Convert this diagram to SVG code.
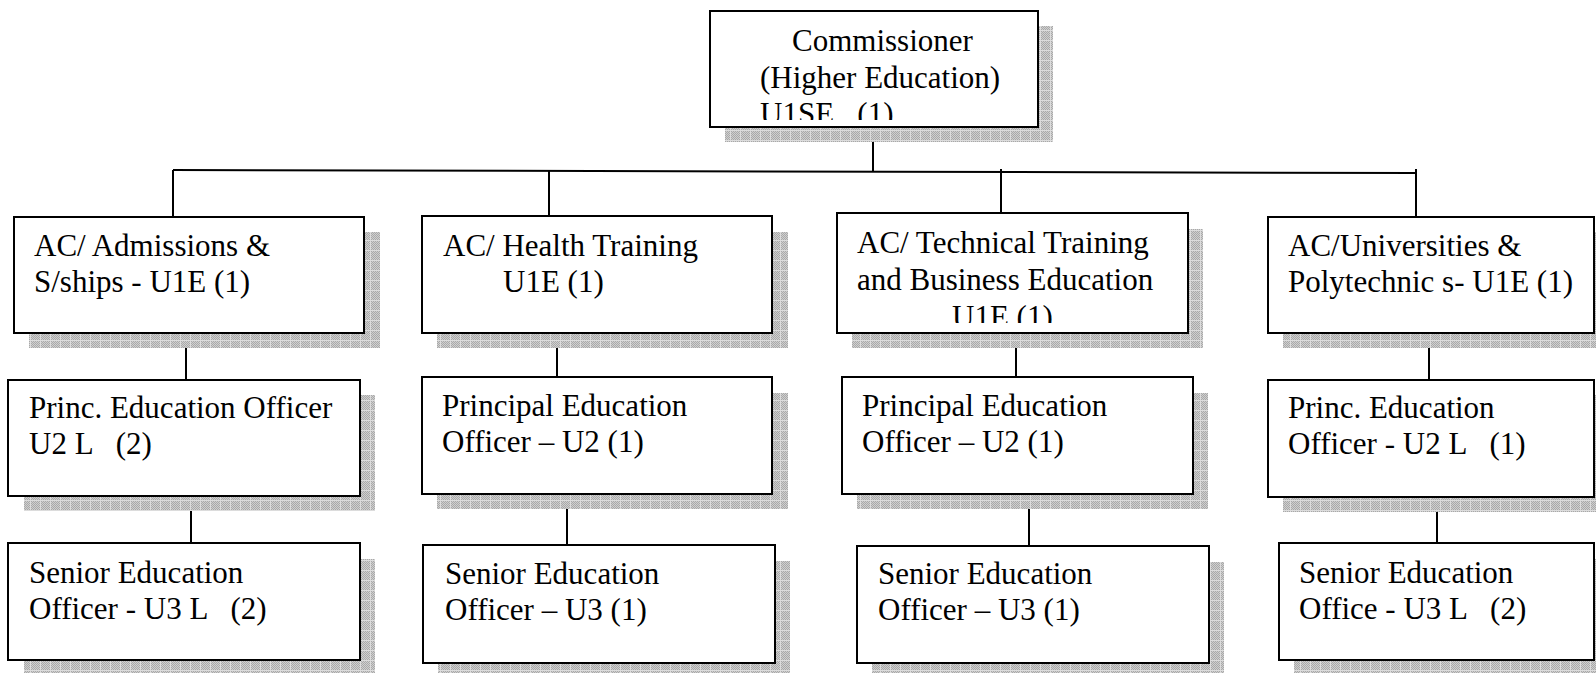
<svg xmlns="http://www.w3.org/2000/svg" width="1596" height="673" viewBox="0 0 1596 673">
  <style>
    .box { fill: #ffffff; stroke: #000000; stroke-width: 2; }
    .shadow { fill: url(#grid); }
    .t { font-family: "Liberation Serif", "Times New Roman", serif; font-size: 31px; fill: #000000; }
    .conn { stroke: #000000; stroke-width: 2; fill: none; }
  </style>
  <defs>
    <pattern id="dots" patternUnits="userSpaceOnUse" width="2" height="2">
      <rect width="2" height="2" fill="#cfcfcf"/>
      <rect width="1" height="1" fill="#a9a9a9"/>
      <rect x="1" y="1" width="1" height="1" fill="#a9a9a9"/>
    </pattern>
    <pattern id="grid" patternUnits="userSpaceOnUse" width="10" height="10">
      <rect width="10" height="10" fill="url(#dots)"/>
      <rect width="10" height="1" fill="#dcdcdc"/>
      <rect width="1" height="10" fill="#dcdcdc"/>
    </pattern>
    <clipPath id="clipC"><rect x="711" y="12" width="326" height="108"/></clipPath>
    <clipPath id="clipA3"><rect x="838" y="214" width="349" height="109"/></clipPath>
  </defs>

  <g id="connectors">
    <line class="conn" x1="173" y1="170" x2="1416" y2="173"/>
    <line class="conn" x1="873" y1="127" x2="873" y2="172"/>
    <line class="conn" x1="173" y1="170" x2="173" y2="217"/>
    <line class="conn" x1="549" y1="171" x2="549" y2="216"/>
    <line class="conn" x1="1001" y1="169" x2="1001" y2="213"/>
    <line class="conn" x1="1416" y1="169" x2="1416" y2="217"/>
    <line class="conn" x1="186" y1="333" x2="186" y2="380"/>
    <line class="conn" x1="191" y1="496" x2="191" y2="543"/>
    <line class="conn" x1="557" y1="333" x2="557" y2="377"/>
    <line class="conn" x1="567" y1="494" x2="567" y2="545"/>
    <line class="conn" x1="1016" y1="333" x2="1016" y2="377"/>
    <line class="conn" x1="1029" y1="494" x2="1029" y2="546"/>
    <line class="conn" x1="1429" y1="333" x2="1429" y2="380"/>
    <line class="conn" x1="1437" y1="497" x2="1437" y2="543"/>
  </g>

  <g id="commissioner">
    <rect class="shadow" x="725" y="26" width="328" height="116"/>
    <rect class="box" x="710" y="11" width="328" height="116"/>
    <g clip-path="url(#clipC)">
      <text class="t" x="792" y="51">Commissioner</text>
      <text class="t" x="760" y="88">(Higher Education)</text>
      <text class="t" x="760" y="124" xml:space="preserve">U1SE   (1)</text>
    </g>
  </g>

  <g id="ac-admissions">
    <rect class="shadow" x="29" y="232" width="351" height="116"/>
    <rect class="box" x="14" y="217" width="350" height="116"/>
    <text class="t" x="34" y="256">AC/ Admissions &amp;</text>
    <text class="t" x="34" y="292">S/ships - U1E (1)</text>
  </g>

  <g id="ac-health">
    <rect class="shadow" x="437" y="232" width="351" height="116"/>
    <rect class="box" x="422" y="216" width="350" height="117"/>
    <text class="t" x="443" y="256">AC/ Health Training</text>
    <text class="t" x="503" y="292">U1E (1)</text>
  </g>

  <g id="ac-technical">
    <rect class="shadow" x="852" y="229" width="351" height="119"/>
    <rect class="box" x="837" y="213" width="351" height="120"/>
    <g clip-path="url(#clipA3)">
      <text class="t" x="857" y="253">AC/ Technical Training</text>
      <text class="t" x="857" y="290">and Business Education</text>
      <text class="t" x="952" y="327">U1E (1)</text>
    </g>
  </g>

  <g id="ac-universities">
    <rect class="shadow" x="1283" y="232" width="330" height="116"/>
    <rect class="box" x="1268" y="217" width="326" height="116"/>
    <text class="t" x="1288" y="256">AC/Universities &amp;</text>
    <text class="t" x="1288" y="292">Polytechnic s- U1E (1)</text>
  </g>

  <g id="peo-1">
    <rect class="shadow" x="24" y="395" width="351" height="116"/>
    <rect class="box" x="8" y="380" width="352" height="116"/>
    <text class="t" x="29" y="418">Princ. Education Officer</text>
    <text class="t" x="29" y="454" xml:space="preserve">U2 L   (2)</text>
  </g>

  <g id="peo-2">
    <rect class="shadow" x="437" y="393" width="351" height="116"/>
    <rect class="box" x="422" y="377" width="350" height="117"/>
    <text class="t" x="442" y="416">Principal Education</text>
    <text class="t" x="442" y="452">Officer – U2 (1)</text>
  </g>

  <g id="peo-3">
    <rect class="shadow" x="857" y="393" width="351" height="116"/>
    <rect class="box" x="842" y="377" width="351" height="117"/>
    <text class="t" x="862" y="416">Principal Education</text>
    <text class="t" x="862" y="452">Officer – U2 (1)</text>
  </g>

  <g id="peo-4">
    <rect class="shadow" x="1283" y="395" width="330" height="117"/>
    <rect class="box" x="1268" y="380" width="326" height="117"/>
    <text class="t" x="1288" y="418">Princ. Education</text>
    <text class="t" x="1288" y="454" xml:space="preserve">Officer - U2 L   (1)</text>
  </g>

  <g id="seo-1">
    <rect class="shadow" x="24" y="559" width="351" height="117"/>
    <rect class="box" x="8" y="543" width="352" height="117"/>
    <text class="t" x="29" y="583">Senior Education</text>
    <text class="t" x="29" y="619" xml:space="preserve">Officer - U3 L   (2)</text>
  </g>

  <g id="seo-2">
    <rect class="shadow" x="438" y="561" width="352" height="117"/>
    <rect class="box" x="423" y="545" width="352" height="118"/>
    <text class="t" x="445" y="584">Senior Education</text>
    <text class="t" x="445" y="620">Officer – U3 (1)</text>
  </g>

  <g id="seo-3">
    <rect class="shadow" x="872" y="562" width="352" height="117"/>
    <rect class="box" x="857" y="546" width="352" height="117"/>
    <text class="t" x="878" y="584">Senior Education</text>
    <text class="t" x="878" y="620">Officer – U3 (1)</text>
  </g>

  <g id="seo-4">
    <rect class="shadow" x="1294" y="559" width="330" height="117"/>
    <rect class="box" x="1279" y="543" width="315" height="117"/>
    <text class="t" x="1299" y="583">Senior Education</text>
    <text class="t" x="1299" y="619" xml:space="preserve">Office - U3 L   (2)</text>
  </g>
</svg>
